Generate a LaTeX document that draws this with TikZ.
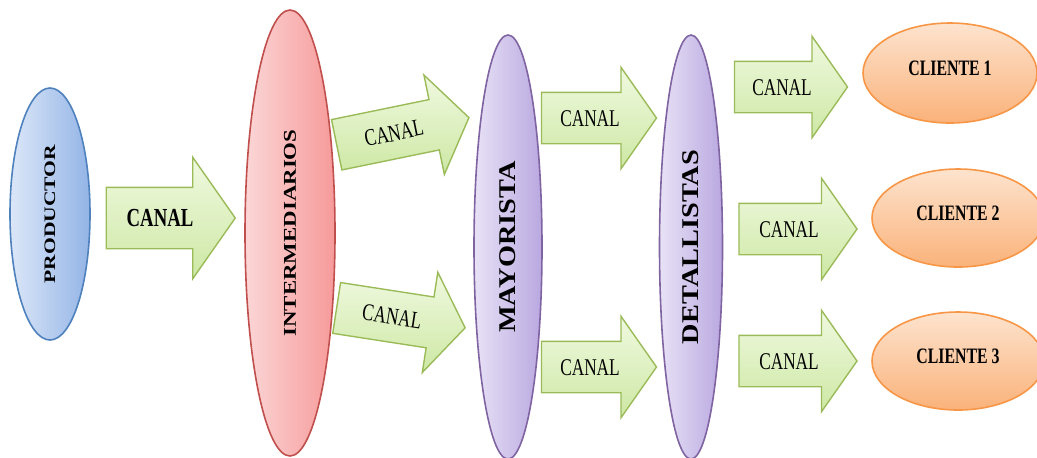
\documentclass[tikz,border=0pt]{standalone}
\usepackage{fontspec}
\setmainfont{Liberation Serif}
\usepackage{graphicx}
\usepackage{tikz}
\usetikzlibrary{shapes.geometric,shapes.arrows}

\newcommand{\estrecho}[1]{\scalebox{0.72}[1]{#1}}
\newcommand{\ancho}[2][1.35]{\scalebox{#1}[1]{#2}}

\definecolor{blueline}{HTML}{4F81BD}
\definecolor{bluelight}{HTML}{DCE7F8}
\definecolor{bluedark}{HTML}{93B4E6}
\definecolor{redline}{HTML}{C0504D}
\definecolor{redlight}{HTML}{FBD6D6}
\definecolor{reddark}{HTML}{F79A9A}
\definecolor{purpleline}{HTML}{8064A2}
\definecolor{purplelight}{HTML}{E8E2F6}
\definecolor{purpledark}{HTML}{B9A8E0}
\definecolor{orangeline}{HTML}{F79646}
\definecolor{orangelight}{HTML}{FDE3CE}
\definecolor{orangedark}{HTML}{FAB27A}
\definecolor{greenline}{HTML}{9BBB59}
\definecolor{greenlight}{HTML}{F0F9E0}
\definecolor{greendark}{HTML}{CDE8A4}

\begin{document}
\begin{tikzpicture}[x=0.5pt, y=-0.5pt,
	actor/.style={ellipse, inner sep=0pt, rotate=90, line width=0.8pt},
	cliente/.style={ellipse, inner sep=0pt, line width=0.8pt, draw=orangeline, top color=orangelight, bottom color=orangedark,
		minimum width=86pt, minimum height=49pt, text depth=5pt, font=\bfseries\fontsize{11}{11}\selectfont},
	canal/.style={single arrow, inner xsep=0pt, inner ysep=8.5pt, text height=8pt, text depth=0pt, line width=0.7pt,
		draw=greenline, top color=greenlight, bottom color=greendark,
		single arrow tip angle=110, single arrow head indent=0pt, minimum width=50pt, single arrow head extend=12.5pt,
		font=\fontsize{12}{12}\selectfont}]
	\useasboundingbox (0,0) rectangle (1037,457);

	% actores de la cadena
	\node[actor, draw=blueline, left color=bluelight, right color=bluedark, minimum width=126pt, minimum height=40pt,
		font=\bfseries\fontsize{8}{8}\selectfont] (prod) at (50,214) {\ancho{PRODUCTOR}};
	\node[actor, draw=redline, left color=redlight, right color=reddark, minimum width=223pt, minimum height=45pt,
		font=\bfseries\fontsize{9}{9}\selectfont] (inter) at (290,233) {\ancho[1.27]{INTERMEDIARIOS}};
	\node[actor, draw=purpleline, left color=purplelight, right color=purpledark, minimum width=212pt, minimum height=34pt,
		font=\bfseries\fontsize{12}{12}\selectfont] (mayor) at (508,247) {\ancho[1.18]{MAYORISTA}};
	\node[actor, draw=purpleline, left color=purplelight, right color=purpledark, minimum width=212pt, minimum height=31.5pt,
		font=\bfseries\fontsize{12}{12}\selectfont] (detal) at (691,247) {\ancho[1.18]{DETALLISTAS}};

	\node[cliente, minimum width=87pt, minimum height=50pt] (cli1) at (950,73) {\estrecho{CLIENTE 1}};
	\node[cliente] (cli2) at (958,218) {\estrecho{CLIENTE 2}};
	\node[cliente] (cli3) at (958,361) {\estrecho{CLIENTE 3}};

	% canales
	\node[canal, minimum width=60pt, single arrow head extend=15pt, inner ysep=11pt, minimum height=64.5pt,
		font=\bfseries\fontsize{13}{13}\selectfont] (canal1) at (160,218) {\estrecho{CANAL}};
	\node[canal, rotate=11.6, minimum height=67.5pt] (canal2) at (394,133) {\estrecho{CANAL}};
	\node[canal, rotate=-8.8, minimum height=65pt] (canal3) at (392,316.5) {\estrecho{CANAL}};
	\node[canal, minimum height=57.5pt] (canal4) at (590,118) {\estrecho{CANAL}};
	\node[canal, minimum height=57.5pt] (canal5) at (590,367) {\estrecho{CANAL}};
	\node[canal, minimum height=56.5pt] (canal6) at (782,87) {\estrecho{CANAL}};
	\node[canal, minimum height=59pt] (canal7) at (789,229) {\estrecho{CANAL}};
	\node[canal, minimum height=59pt] (canal8) at (789,361) {\estrecho{CANAL}};
\end{tikzpicture}
\end{document}
